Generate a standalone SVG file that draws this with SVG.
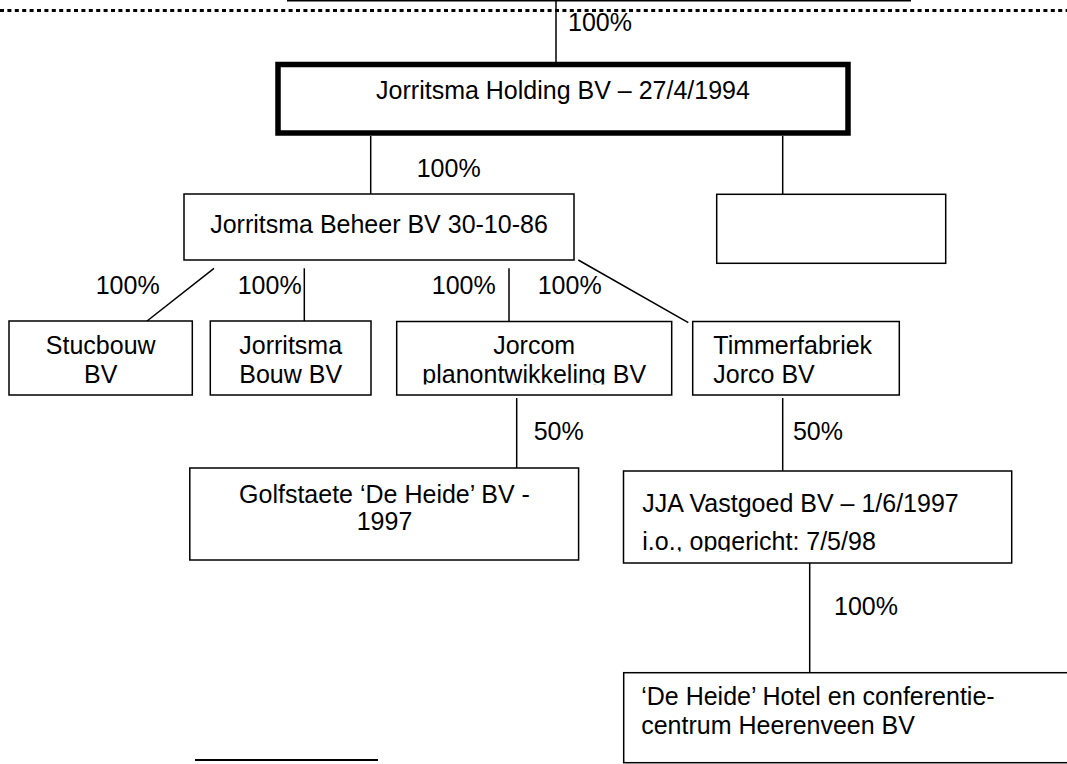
<svg xmlns="http://www.w3.org/2000/svg" width="1067" height="764" viewBox="0 0 1067 764">
<style>
.box{fill:#fff;stroke:#000;stroke-width:1.5}
.thick{fill:#fff;stroke:#000;stroke-width:5.5}
.ln{stroke:#000;stroke-width:1.5;fill:none}
text{font-family:"Liberation Sans",Arial,sans-serif;font-size:25px;fill:#000}
.c{text-anchor:middle}
</style>
<defs>
<clipPath id="clipJorcom"><rect x="396" y="321" width="276" height="63.5"/></clipPath>
<clipPath id="clipJJA"><rect x="623" y="471" width="389" height="80.5"/></clipPath>
</defs>
<rect width="1067" height="764" fill="#fff"/>
<g id="top-frame">
<line class="ln" x1="287" y1="0.75" x2="911" y2="0.75"/>
<line x1="0" y1="10.5" x2="1067" y2="10.5" stroke="#000" stroke-width="3" stroke-dasharray="4 3.4"/>
</g>
<g id="connectors">
<line class="ln" x1="556" y1="0" x2="556" y2="62"/>
<line class="ln" x1="370.7" y1="136" x2="370.7" y2="194"/>
<line class="ln" x1="782.7" y1="136" x2="782.7" y2="194"/>
<line class="ln" x1="214" y1="268.3" x2="140.7" y2="326"/>
<line class="ln" x1="304.3" y1="268.3" x2="304.3" y2="322"/>
<line class="ln" x1="509" y1="268.3" x2="509" y2="322"/>
<line class="ln" x1="578.3" y1="260" x2="688.3" y2="322.7"/>
<line class="ln" x1="516.7" y1="398" x2="516.7" y2="468"/>
<line class="ln" x1="782.7" y1="398" x2="782.7" y2="471"/>
<line class="ln" x1="809.7" y1="563" x2="809.7" y2="672.7"/>
<text x="568" y="31">100%</text>
<text x="416.7" y="177">100%</text>
<text x="95.7" y="294">100%</text>
<text x="237.7" y="294">100%</text>
<text x="431.8" y="294">100%</text>
<text x="537.7" y="294">100%</text>
<text x="533.7" y="440">50%</text>
<text x="792.9" y="440">50%</text>
<text x="834" y="615">100%</text>
</g>
<g id="holding">
<rect class="thick" x="278" y="64.5" width="570" height="68.5"/>
<text class="c" x="563" y="99">Jorritsma Holding BV – 27/4/1994</text>
</g>
<g id="beheer">
<rect class="box" x="184" y="194" width="390" height="66"/>
<text class="c" x="379" y="233">Jorritsma Beheer BV 30-10-86</text>
</g>
<g id="empty">
<rect class="box" x="716.7" y="194.3" width="229" height="69"/>
</g>
<g id="stucbouw">
<rect class="box" x="9" y="321" width="183.3" height="74"/>
<text class="c" x="100.7" y="354">Stucbouw</text>
<text class="c" x="100.7" y="383">BV</text>
</g>
<g id="jorritsma-bouw">
<rect class="box" x="210.3" y="321" width="160.7" height="74"/>
<text class="c" x="290.7" y="354">Jorritsma</text>
<text class="c" x="290.7" y="383">Bouw BV</text>
</g>
<g id="jorcom">
<rect class="box" x="396.7" y="321.5" width="275" height="73.5"/>
<g clip-path="url(#clipJorcom)">
<text class="c" x="534.2" y="354">Jorcom</text>
<text class="c" x="534.2" y="383">planontwikkeling BV</text>
</g>
</g>
<g id="timmerfabriek">
<rect class="box" x="692.7" y="321.5" width="206.6" height="73.5"/>
<text x="713.3" y="354">Timmerfabriek</text>
<text x="713.3" y="383">Jorco BV</text>
</g>
<g id="golfstaete">
<rect class="box" x="189.8" y="468" width="388.8" height="92"/>
<text class="c" x="384.5" y="503">Golfstaete ‘De Heide’ BV -</text>
<text class="c" x="384.5" y="530">1997</text>
</g>
<g id="jja">
<rect class="box" x="623.5" y="471" width="388.2" height="92"/>
<g clip-path="url(#clipJJA)">
<text x="642.3" y="512">JJA Vastgoed BV – 1/6/1997</text>
<text x="642.3" y="550">i.o., opgericht: 7/5/98</text>
</g>
</g>
<g id="hotel">
<rect class="box" x="623.7" y="672.7" width="460" height="90"/>
<text x="641.2" y="705">‘De Heide’ Hotel en conferentie-</text>
<text x="641.2" y="734">centrum Heerenveen BV</text>
</g>
<g id="footnote-rule">
<line x1="195" y1="760" x2="378" y2="760" stroke="#000" stroke-width="2"/>
</g>
</svg>
